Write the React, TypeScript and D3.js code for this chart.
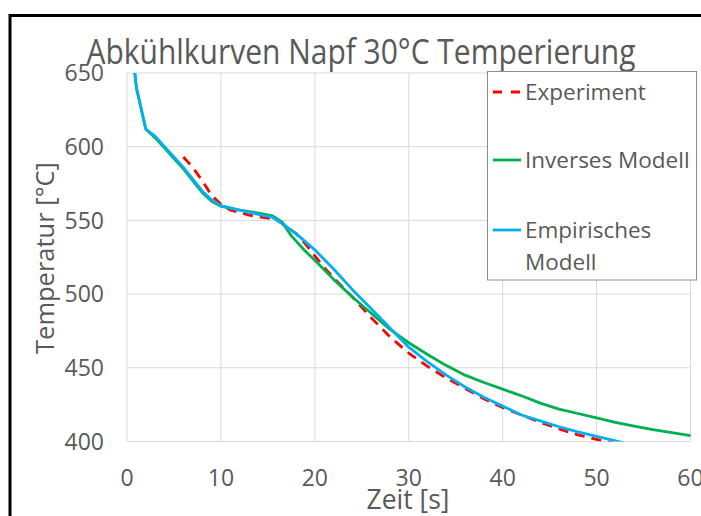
import React from 'react';
import * as d3 from 'd3';

const width = 701;
const height = 516;
const plot = { left: 127, right: 690.5, top: 73, bottom: 441.5 };
const font = "'Open Sans', 'DejaVu Sans', sans-serif";
const textColor = '#595959';

const xTicks = [0, 10, 20, 30, 40, 50, 60];
const yTicks = [400, 450, 500, 550, 600, 650];

// Experiment (red dashed)
const expTime = [6, 7, 8, 9, 10, 11, 12, 13, 14, 15, 16, 16.5, 17, 18, 19, 20, 21, 22, 24, 26, 28, 30, 32, 34, 36, 38, 40, 42, 44, 46, 48, 50, 52, 54];
const expTemp = [593, 586, 577, 567, 561, 557, 555.5, 553.5, 552.5, 551.5, 550, 548, 545.5, 541, 534, 526, 518, 511, 498, 484, 471, 460, 451, 443, 436, 429, 423, 418, 413, 408.5, 404.5, 401.5, 398.5, 396];

// Inverses Modell (green)
const invTime = [0, 1, 2, 3, 4, 5, 6, 7, 8, 9, 10, 12, 14, 15.5, 16.5, 17.5, 19, 20, 22, 24, 26, 28, 30, 32, 34, 36, 38, 40, 42, 44, 46, 48, 50, 52, 54, 56, 58, 60];
const invTemp = [700, 640, 612, 606, 599, 592, 585, 577, 569, 563, 559.5, 557, 555, 553, 549, 539.5, 529, 523, 510, 498, 487, 476, 467, 459, 451.5, 445, 440, 435.5, 431, 426, 422, 419, 416, 413, 410.5, 408, 406, 404];

// Empirisches Modell (blue)
const empTime = [0, 1, 2, 3, 4, 5, 6, 7, 8, 9, 10, 12, 14, 15.5, 16.5, 18, 20, 22, 24, 26, 28, 30, 32, 34, 36, 38, 40, 42, 44, 46, 48, 50, 52, 54];
const empTemp = [700, 640, 612, 607, 600, 593, 586, 578, 570, 564, 560, 557, 554, 552, 548, 541, 530, 517, 503, 490, 477, 464, 454, 445, 437, 430, 424, 418, 414, 410, 406.5, 403.5, 400.5, 397.5];

const series = [
  { name: 'Experiment', time: expTime, temp: expTemp, color: '#FF0000', dash: '10,7' },
  { name: 'Inverses Modell', time: invTime, temp: invTemp, color: '#00B050', dash: undefined },
  { name: 'Empirisches Modell', time: empTime, temp: empTemp, color: '#00B0F0', dash: undefined },
];

export default function App() {
  const x = d3.scaleLinear().domain([0, 60]).range([plot.left, plot.right]);
  const y = d3.scaleLinear().domain([400, 650]).range([plot.bottom, plot.top]);

  const line = d3
    .line<number>()
    .x((_, i, arr) => 0)
    .curve(d3.curveLinear);

  const makePath = (time: number[], temp: number[]) =>
    d3
      .line<number>()
      .x((t) => x(t))
      .y((_, i) => y(temp[i]))(time) || '';

  return (
    <svg
      width={width}
      height={height}
      style={{ position: 'absolute', left: 0, top: 0, background: '#fff' }}
      fontFamily={font}
    >
      <defs>
        <clipPath id="plotClip">
          <rect x={plot.left} y={plot.top} width={plot.right - plot.left + 2} height={plot.bottom - plot.top} />
        </clipPath>
      </defs>

      {/* outer frame */}
      <path d={`M10,${height} V15.5 H${width}`} fill="none" stroke="#000" strokeWidth={3} />

      {/* title */}
      <text x={361} y={64} textAnchor="middle" fontSize={34} fill={textColor} textLength={549} lengthAdjust="spacingAndGlyphs">
        Abkühlkurven Napf 30°C Temperierung
      </text>

      {/* grid */}
      {yTicks.map((t) => (
        <line key={'gy' + t} x1={plot.left} x2={plot.right} y1={y(t)} y2={y(t)} stroke="#d9d9d9" strokeWidth={1} />
      ))}
      {xTicks.map((t) => (
        <line key={'gx' + t} x1={x(t)} x2={x(t)} y1={plot.top} y2={plot.bottom} stroke="#d9d9d9" strokeWidth={1} />
      ))}

      {/* y tick labels */}
      {yTicks.map((t) => (
        <text key={'ly' + t} x={104} y={y(t)} dy="0.36em" textAnchor="end" fontSize={23} fill={textColor}>
          {t}
        </text>
      ))}
      {/* x tick labels */}
      {xTicks.map((t) => (
        <text key={'lx' + t} x={x(t)} y={486} textAnchor="middle" fontSize={23} fill={textColor}>
          {t}
        </text>
      ))}

      {/* axis titles */}
      <text x={408} y={509} textAnchor="middle" fontSize={26.5} fill={textColor}>
        Zeit [s]
      </text>
      <text transform="translate(54,258) rotate(-90)" textAnchor="middle" fontSize={25.5} fill={textColor}>
        Temperatur [°C]
      </text>

      {/* series */}
      <g clipPath="url(#plotClip)">
        {series.map((s) => (
          <path
            key={s.name}
            d={makePath(s.time, s.temp)}
            fill="none"
            stroke={s.color}
            strokeWidth={2.8}
            strokeDasharray={s.dash}
            strokeLinejoin="round"
          />
        ))}
      </g>

      {/* legend */}
      <rect x={487.5} y={71.5} width={209} height={208.5} fill="#fff" stroke="#8c8c8c" strokeWidth={1} />
      {[
        { s: series[0], cy: 92, lines: ['Experiment'] },
        { s: series[1], cy: 160, lines: ['Inverses Modell'] },
        { s: series[2], cy: 230, lines: ['Empirisches', 'Modell'] },
      ].map(({ s, cy, lines }) => (
        <g key={'lg' + s.name}>
          <line x1={493} x2={521} y1={cy} y2={cy} stroke={s.color} strokeWidth={2.8} strokeDasharray={s.dash ? '9,9' : undefined} />
          {lines.map((l, i) => (
            <text key={l} x={525} y={cy + i * 32} dy="0.36em" fontSize={22.5} fill={textColor}>
              {l}
            </text>
          ))}
        </g>
      ))}
    </svg>
  );
}
